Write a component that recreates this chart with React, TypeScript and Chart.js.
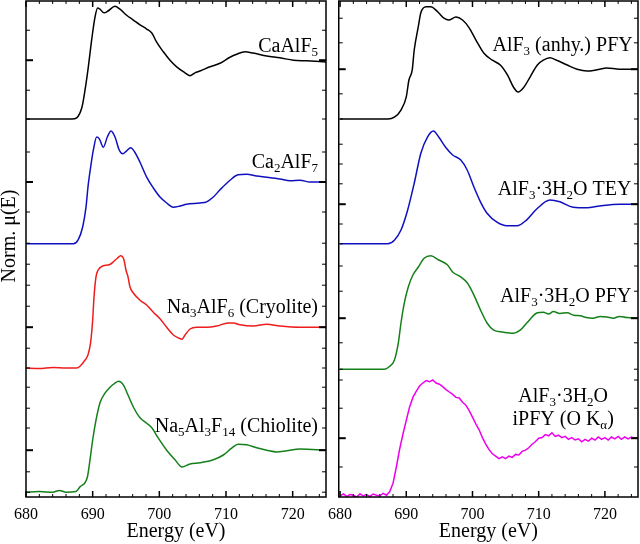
import React, { useEffect, useRef } from "react";
import { Chart, registerables } from "chart.js";
Chart.register(...registerables);

const SERIF = '"Liberation Serif", "Times New Roman", serif';

// ---------- Left panel (stacked offset units) ----------
const E_CaAlF5 = [680, 684, 686.9, 687.6, 688.4, 688.85, 689.35, 689.85, 690.35, 690.75, 691.1, 691.7, 692.3, 693.35, 694.1, 695.1, 696.1, 697.1, 698.1, 698.9, 699.6, 700.6, 701.6, 702.6, 703.85, 704.6, 705.35, 706.1, 707.6, 709.1, 710.6, 711.6, 712.85, 714.05, 716.1, 718.1, 720.1, 722.1, 725];
const Y_CaAlF5 = [6.30, 6.30, 6.30, 6.32, 6.50, 6.78, 7.17, 7.62, 8.00, 8.15, 8.13, 8.07, 8.10, 8.18, 8.13, 8.03, 7.95, 7.87, 7.80, 7.73, 7.58, 7.42, 7.28, 7.17, 7.07, 7.02, 7.07, 7.10, 7.17, 7.23, 7.33, 7.38, 7.42, 7.40, 7.35, 7.32, 7.28, 7.27, 7.25];

const E_Ca2AlF7 = [680, 684, 687.1, 687.8, 688.5, 689.0, 689.3, 689.7, 690.1, 690.6, 691.0, 691.6, 692.2, 692.75, 693.35, 694.0, 694.5, 695.1, 695.7, 696.3, 697.1, 698.1, 699.1, 700.1, 701.1, 702.1, 703.1, 704.1, 706.1, 707.1, 708.1, 709.1, 710.6, 711.8, 713.1, 714.6, 716.1, 718.1, 719.6, 721.1, 722.6, 725];
const Y_Ca2AlF7 = [4.22, 4.22, 4.22, 4.28, 4.50, 4.83, 5.17, 5.50, 5.78, 6.00, 5.97, 5.83, 6.00, 6.10, 6.00, 5.78, 5.72, 5.77, 5.82, 5.75, 5.58, 5.33, 5.15, 5.00, 4.90, 4.83, 4.85, 4.88, 4.90, 4.92, 5.00, 5.12, 5.28, 5.37, 5.38, 5.35, 5.33, 5.30, 5.27, 5.28, 5.25, 5.25];

const E_Na3AlF6 = [680, 682, 684, 686, 687.6, 688.1, 688.85, 689.3, 689.7, 690.0, 690.2, 690.5, 690.8, 691.5, 692.5, 693.2, 693.7, 694.2, 694.7, 695.0, 695.3, 695.6, 696.1, 697.1, 698.1, 699.1, 700.1, 701.1, 702.1, 702.9, 703.4, 703.85, 704.6, 705.6, 707.1, 708.6, 710.3, 711.1, 712.1, 714.1, 716.1, 718.1, 721.1, 725];
const Y_Na3AlF6 = [2.15, 2.14, 2.16, 2.15, 2.15, 2.18, 2.28, 2.37, 2.58, 2.95, 3.33, 3.67, 3.78, 3.85, 3.87, 3.93, 3.98, 4.02, 3.95, 3.78, 3.67, 3.50, 3.40, 3.28, 3.20, 3.08, 2.97, 2.83, 2.70, 2.65, 2.63, 2.70, 2.80, 2.83, 2.83, 2.85, 2.90, 2.90, 2.87, 2.85, 2.88, 2.85, 2.83, 2.83];

const E_Na5Al3F14 = [680, 682, 684, 685, 686, 687.5, 688.1, 689.2, 689.6, 690.0, 690.5, 691.1, 691.85, 692.6, 693.35, 693.9, 694.6, 695.3, 696.1, 697.1, 698.1, 698.9, 699.85, 701.1, 702.35, 703.4, 704.6, 706.1, 708.1, 709.6, 710.9, 711.8, 713.1, 714.6, 716.1, 717.6, 719.1, 721.1, 725];
const Y_Na5Al3F14 = [0.08, 0.09, 0.08, 0.11, 0.08, 0.09, 0.17, 0.33, 0.62, 0.95, 1.28, 1.57, 1.73, 1.83, 1.90, 1.93, 1.87, 1.70, 1.50, 1.32, 1.23, 1.15, 0.98, 0.78, 0.62, 0.50, 0.55, 0.57, 0.62, 0.70, 0.82, 0.88, 0.87, 0.82, 0.78, 0.75, 0.77, 0.80, 0.78];

// ---------- Right panel ----------
const E_AlF3_PFY = [680, 684, 687.2, 688.2, 689.2, 690.0, 690.4, 690.9, 691.2, 691.8, 692.2, 693.0, 693.7, 694.8, 695.7, 696.4, 697.5, 698.5, 699.5, 700.5, 701.7, 703.0, 704.2, 705.3, 706.2, 706.9, 707.7, 708.7, 709.8, 710.7, 711.7, 712.7, 714.3, 715.8, 717.3, 718.8, 720.3, 722.2, 725];
const Y_AlF3_PFY = [6.30, 6.30, 6.30, 6.33, 6.45, 6.67, 6.95, 7.12, 7.45, 7.83, 8.07, 8.17, 8.17, 8.08, 7.98, 7.95, 8.00, 7.95, 7.82, 7.62, 7.40, 7.28, 7.20, 7.03, 6.83, 6.75, 6.82, 7.00, 7.20, 7.28, 7.32, 7.28, 7.20, 7.13, 7.10, 7.12, 7.15, 7.13, 7.13];

const E_Hyd_TEY = [680, 684, 687.2, 688.2, 689.2, 690.2, 691.2, 692.2, 693.2, 694.1, 694.9, 696.0, 697.0, 698.2, 699.2, 700.2, 701.2, 702.2, 703.7, 705.2, 706.7, 708.2, 709.7, 711.7, 713.2, 715.2, 717.3, 719.2, 722.2, 725];
const Y_Hyd_TEY = [4.22, 4.22, 4.22, 4.28, 4.45, 4.78, 5.23, 5.73, 6.00, 6.10, 6.00, 5.82, 5.70, 5.62, 5.45, 5.17, 4.92, 4.73, 4.58, 4.52, 4.52, 4.62, 4.80, 4.95, 4.92, 4.83, 4.82, 4.85, 4.88, 4.88];

const E_Hyd_PFY = [680, 682, 684, 686.7, 687.4, 688.2, 688.8, 689.2, 689.7, 690.3, 691.0, 691.8, 692.7, 693.7, 694.9, 696.2, 697.0, 698.2, 699.2, 700.2, 701.2, 702.2, 703.2, 704.5, 706.2, 707.2, 708.2, 709.8, 710.7, 711.5, 712.2, 713.2, 714.3, 715.3, 716.3, 717.2, 718.2, 719.3, 720.3, 721.3, 722.2, 723.3, 725];
const Y_Hyd_PFY = [2.13, 2.13, 2.13, 2.13, 2.17, 2.28, 2.57, 2.90, 3.23, 3.50, 3.70, 3.83, 3.98, 4.02, 3.95, 3.87, 3.75, 3.67, 3.57, 3.37, 3.12, 2.90, 2.78, 2.75, 2.73, 2.78, 2.90, 3.07, 3.08, 3.05, 3.09, 3.06, 3.07, 3.03, 3.02, 2.99, 2.98, 3.01, 3.00, 2.98, 3.01, 2.99, 2.98];

const E_Hyd_iPFY = [680, 680.5, 681, 681.5, 682, 682.5, 683, 683.5, 684, 684.5, 685, 685.5, 686, 686.5, 687, 687.5, 688, 688.5, 689, 689.5, 690, 690.5, 691, 691.5, 692, 692.5, 693, 693.5, 694, 694.5, 695, 695.5, 696, 696.5, 697, 697.5, 698, 698.5, 699, 699.5, 700, 700.5, 701, 701.5, 702, 702.5, 703, 703.5, 704, 704.5, 705, 705.5, 706, 706.5, 707, 707.5, 708, 708.5, 709, 709.5, 710, 710.5, 711, 711.5, 712, 712.5, 713, 713.5, 714, 714.5, 715, 715.5, 716, 716.5, 717, 717.5, 718, 718.5, 719, 719.5, 720, 720.5, 721, 721.5, 722, 722.5, 723, 723.5, 724, 724.5, 725];
const Y_Hyd_iPFY = [0.02, 0.05, 0.01, 0.04, 0.03, 0.00, 0.05, 0.02, 0.04, 0.01, 0.05, 0.03, 0.02, 0.06, 0.03, 0.09, 0.23, 0.50, 0.80, 1.05, 1.28, 1.50, 1.66, 1.76, 1.85, 1.90, 1.94, 1.92, 1.95, 1.90, 1.88, 1.84, 1.79, 1.75, 1.71, 1.66, 1.65, 1.58, 1.53, 1.44, 1.33, 1.22, 1.12, 0.99, 0.88, 0.79, 0.72, 0.68, 0.64, 0.67, 0.64, 0.68, 0.66, 0.71, 0.70, 0.76, 0.78, 0.82, 0.88, 0.92, 0.98, 0.99, 1.04, 1.02, 1.07, 1.01, 1.03, 0.99, 1.01, 0.96, 0.99, 0.95, 0.97, 0.92, 0.96, 0.93, 0.98, 0.95, 1.00, 0.96, 0.99, 0.95, 1.00, 0.97, 1.01, 0.96, 1.00, 0.97, 1.00, 0.98, 0.99];

// ---------- Axis ticks ----------
const X_TICK_LABELS = [680, 690, 700, 710, 720];
const LEFT_MINOR_Y = [7.78, 6.78, 6.30, 5.75, 4.75, 4.23, 3.88, 3.53, 3.18, 2.48, 2.15, 1.83, 1.48, 1.15, 0.42, 0.08];
const LEFT_MAJOR_Y = [7.28, 5.25, 2.83, 0.78];
const RIGHT_MINOR_Y = [7.98, 7.57, 6.72, 6.30, 5.88, 5.55, 5.22, 4.55, 4.22, 3.85, 3.43, 2.57, 2.13, 1.95, 1.48, 0.50];
const RIGHT_MAJOR_Y = [7.13, 4.88, 2.98, 0.98];

type Part = [string, number];
type Label = { parts: Part[]; x: number; y: number; align: "right" | "center" };

const LEFT_LABELS: Label[] = [
  { parts: [["CaAlF", 0], ["5", 1]], x: 723.8, y: 7.42, align: "right" },
  { parts: [["Ca", 0], ["2", 1], ["AlF", 0], ["7", 1]], x: 723.8, y: 5.48, align: "right" },
  { parts: [["Na", 0], ["3", 1], ["AlF", 0], ["6", 1], [" (Cryolite)", 0]], x: 723.8, y: 3.07, align: "right" },
  { parts: [["Na", 0], ["5", 1], ["Al", 0], ["3", 1], ["F", 0], ["14", 1], [" (Chiolite)", 0]], x: 723.8, y: 1.08, align: "right" },
];
const RIGHT_LABELS: Label[] = [
  { parts: [["AlF", 0], ["3", 1], [" (anhy.) PFY", 0]], x: 724.2, y: 7.43, align: "right" },
  { parts: [["AlF", 0], ["3", 1], ["·3H", 0], ["2", 1], ["O TEY", 0]], x: 724.0, y: 5.03, align: "right" },
  { parts: [["AlF", 0], ["3", 1], ["·3H", 0], ["2", 1], ["O PFY", 0]], x: 724.0, y: 3.25, align: "right" },
  { parts: [["AlF", 0], ["3", 1], ["·3H", 0], ["2", 1], ["O", 0]], x: 713.7, y: 1.58, align: "center" },
  { parts: [["iPFY (O K", 0], ["α", 1], [")", 0]], x: 713.7, y: 1.20, align: "center" },
];

function drawRich(ctx: CanvasRenderingContext2D, parts: Part[], x: number, y: number, align: string) {
  const big = `20px ${SERIF}`;
  const small = `13px ${SERIF}`;
  let w = 0;
  for (const [t, s] of parts) {
    ctx.font = s ? small : big;
    w += ctx.measureText(t).width;
  }
  let cx = align === "right" ? x - w : align === "center" ? x - w / 2 : x;
  ctx.textAlign = "left";
  ctx.textBaseline = "alphabetic";
  ctx.fillStyle = "#000";
  for (const [t, s] of parts) {
    ctx.font = s ? small : big;
    ctx.fillText(t, cx, y + (s ? 4 : 0));
    cx += ctx.measureText(t).width;
  }
}

const framePlugin = {
  id: "frame",
  afterDatasetsDraw(chart: any, _args: any, opts: any) {
    const { ctx, chartArea: a, scales } = chart;
    const xs = scales.x;
    const ys = scales.y;
    ctx.save();
    ctx.strokeStyle = "#000";
    const seg = (x1: number, y1: number, x2: number, y2: number, w: number) => {
      ctx.lineWidth = w;
      ctx.beginPath();
      ctx.moveTo(x1, y1);
      ctx.lineTo(x2, y2);
      ctx.stroke();
    };
    for (let v = 680; v <= 724; v += 2) {
      if (v < xs.min) continue;
      const px = xs.getPixelForValue(v);
      const major = v % 10 === 0;
      const len = major ? 6 : 3;
      const w = major ? 1.5 : 1;
      seg(px, a.bottom, px, a.bottom - len, w);
      seg(px, a.top, px, a.top + len, w);
    }
    for (const v of opts.minorY) {
      const py = ys.getPixelForValue(v);
      seg(a.left, py, a.left + 4, py, 1);
      seg(a.right, py, a.right - 4, py, 1);
    }
    for (const v of opts.majorY) {
      const py = ys.getPixelForValue(v);
      seg(a.left, py, a.left + 7, py, 2);
      seg(a.right, py, a.right - 7, py, 2);
    }
    ctx.lineWidth = 1.5;
    ctx.strokeRect(a.left, a.top, a.right - a.left, a.bottom - a.top);
    for (const lab of opts.labels as Label[]) {
      drawRich(ctx, lab.parts, xs.getPixelForValue(lab.x), ys.getPixelForValue(lab.y), lab.align);
    }
    if (opts.yTitle) {
      ctx.translate(15, (a.top + a.bottom) / 2 - 13);
      ctx.rotate(-Math.PI / 2);
      ctx.font = `20px ${SERIF}`;
      ctx.textAlign = "center";
      ctx.textBaseline = "alphabetic";
      ctx.fillStyle = "#000";
      ctx.fillText("Norm. μ(E)", 0, 0);
    }
    ctx.restore();
  },
};

type Series = { e: number[]; y: number[]; color: string; noisy?: boolean };

function Panel(props: {
  left: number; width: number; xMin: number; yAxisWidth: number; padRight: number;
  series: Series[]; minorY: number[]; majorY: number[]; labels: Label[]; yTitle: boolean;
}) {
  const ref = useRef<HTMLCanvasElement>(null);
  useEffect(() => {
    const chart = new Chart(ref.current as HTMLCanvasElement, {
      type: "line",
      data: {
        datasets: props.series.map((s) => ({
          data: s.e.map((x, i) => ({ x, y: s.y[i] })),
          borderColor: s.color,
          borderWidth: 1.5,
          pointRadius: 0,
          fill: false,
          cubicInterpolationMode: s.noisy ? "default" : "monotone",
          tension: 0,
        })),
      },
      options: {
        responsive: false,
        animation: false,
        events: [],
        layout: { padding: { top: 1, right: props.padRight, bottom: 0, left: 0 } },
        plugins: {
          legend: { display: false },
          tooltip: { enabled: false },
          frame: { minorY: props.minorY, majorY: props.majorY, labels: props.labels, yTitle: props.yTitle },
        } as any,
        scales: {
          x: {
            type: "linear",
            min: props.xMin,
            max: 725,
            grid: { display: false, drawTicks: false },
            border: { display: false },
            ticks: { font: { family: SERIF, size: 16 }, color: "#000", padding: 8, maxRotation: 0, autoSkip: false },
            afterBuildTicks: (sc: any) => { sc.ticks = X_TICK_LABELS.map((v) => ({ value: v })); },
            afterFit: (sc: any) => { sc.height = 47; },
            title: { display: true, text: "Energy (eV)", color: "#000", font: { family: SERIF, size: 20 }, padding: { top: 0, bottom: 0 } },
          },
          y: {
            type: "linear",
            min: 0,
            max: 8.267,
            grid: { display: false, drawTicks: false },
            border: { display: false },
            ticks: { display: false },
            afterFit: (sc: any) => { sc.width = props.yAxisWidth; },
          },
        },
      } as any,
      plugins: [framePlugin as any],
    });
    return () => chart.destroy();
  }, []);
  return (
    <canvas
      ref={ref}
      width={props.width}
      height={544}
      style={{ position: "absolute", left: props.left, top: 0, width: props.width, height: 544 }}
    />
  );
}

export default function App() {
  const leftSeries: Series[] = [
    { e: E_CaAlF5, y: Y_CaAlF5, color: "#000000" },
    { e: E_Ca2AlF7, y: Y_Ca2AlF7, color: "#1010c0" },
    { e: E_Na3AlF6, y: Y_Na3AlF6, color: "#ee1c1c" },
    { e: E_Na5Al3F14, y: Y_Na5Al3F14, color: "#15801a" },
  ];
  const rightSeries: Series[] = [
    { e: E_AlF3_PFY, y: Y_AlF3_PFY, color: "#000000" },
    { e: E_Hyd_TEY, y: Y_Hyd_TEY, color: "#1010c0" },
    { e: E_Hyd_PFY, y: Y_Hyd_PFY, color: "#15801a" },
    { e: E_Hyd_iPFY, y: Y_Hyd_iPFY, color: "#ee00ee", noisy: true },
  ];
  return (
    <div style={{ position: "absolute", left: 0, top: 0, width: 640, height: 544, background: "#fff" }}>
      <Panel left={0} width={340} xMin={680} yAxisWidth={26} padRight={14}
        series={leftSeries} minorY={LEFT_MINOR_Y} majorY={LEFT_MAJOR_Y} labels={LEFT_LABELS} yTitle={true} />
      <Panel left={320} width={320} xMin={679.8} yAxisWidth={17} padRight={2}
        series={rightSeries} minorY={RIGHT_MINOR_Y} majorY={RIGHT_MAJOR_Y} labels={RIGHT_LABELS} yTitle={false} />
    </div>
  );
}
